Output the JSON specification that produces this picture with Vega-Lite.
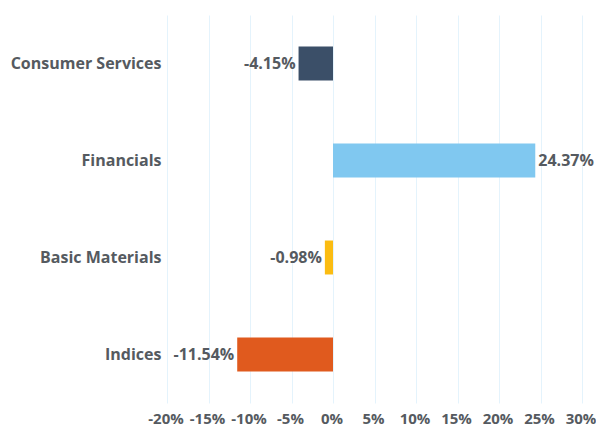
{
  "$schema": "https://vega.github.io/schema/vega-lite/v6.json",
  "autosize": "none",
  "width": 415,
  "height": 388,
  "padding": {"left": 167, "top": 15, "right": 14, "bottom": 31},
  "config": {
    "view": {"stroke": null},
    "locale": {"number": {"decimal": ".", "thousands": ",", "grouping": [3], "currency": ["$", ""], "minus": "-"}},
    "font": "Open Sans"
  },
  "data": {
    "values": [
      {"category": "Consumer Services", "value": -0.0415},
      {"category": "Financials", "value": 0.2437},
      {"category": "Basic Materials", "value": -0.0098},
      {"category": "Indices", "value": -0.1154}
    ]
  },
  "encoding": {
    "y": {
      "field": "category",
      "type": "nominal",
      "sort": null,
      "scale": {"paddingInner": 0.65, "paddingOuter": 0.325},
      "axis": {
        "title": null,
        "domain": false,
        "ticks": false,
        "labelPadding": 6,
        "labelFontSize": 16,
        "labelFontWeight": "bold",
        "labelColor": "#555a60",
        "labelFont": "Open Sans"
      }
    },
    "x": {
      "field": "value",
      "type": "quantitative",
      "scale": {"domain": [-0.2, 0.3], "nice": false, "zero": false},
      "axis": {
        "title": null,
        "format": ".0%",
        "values": [-0.2, -0.15, -0.1, -0.05, 0, 0.05, 0.1, 0.15, 0.2, 0.25, 0.3],
        "domain": false,
        "ticks": false,
        "grid": true,
        "gridColor": "#e4f3fc",
        "gridWidth": 1,
        "labelPadding": 8,
        "labelOffset": -1.5,
        "labelFontSize": 15,
        "labelFontWeight": "bold",
        "labelColor": "#555a60",
        "labelFont": "Open Sans",
        "labelFlush": false,
        "labelOverlap": false
      }
    }
  },
  "layer": [
    {
      "mark": {"type": "bar"},
      "encoding": {
        "x2": {"datum": 0},
        "color": {
          "field": "category",
          "type": "nominal",
          "scale": {
            "domain": ["Consumer Services", "Financials", "Basic Materials", "Indices"],
            "range": ["#3b4f68", "#80c8f0", "#fbbc12", "#e05a1e"]
          },
          "legend": null
        }
      }
    },
    {
      "transform": [{"filter": "datum.value < 0"}],
      "mark": {"type": "text", "align": "right", "dx": -3, "fontSize": 16, "fontWeight": "bold", "color": "#555a60", "font": "Open Sans"},
      "encoding": {"text": {"field": "value", "type": "quantitative", "format": ".2%"}}
    },
    {
      "transform": [{"filter": "datum.value >= 0"}],
      "mark": {"type": "text", "align": "left", "dx": 3, "fontSize": 16, "fontWeight": "bold", "color": "#555a60", "font": "Open Sans"},
      "encoding": {"text": {"field": "value", "type": "quantitative", "format": ".2%"}}
    }
  ]
}
